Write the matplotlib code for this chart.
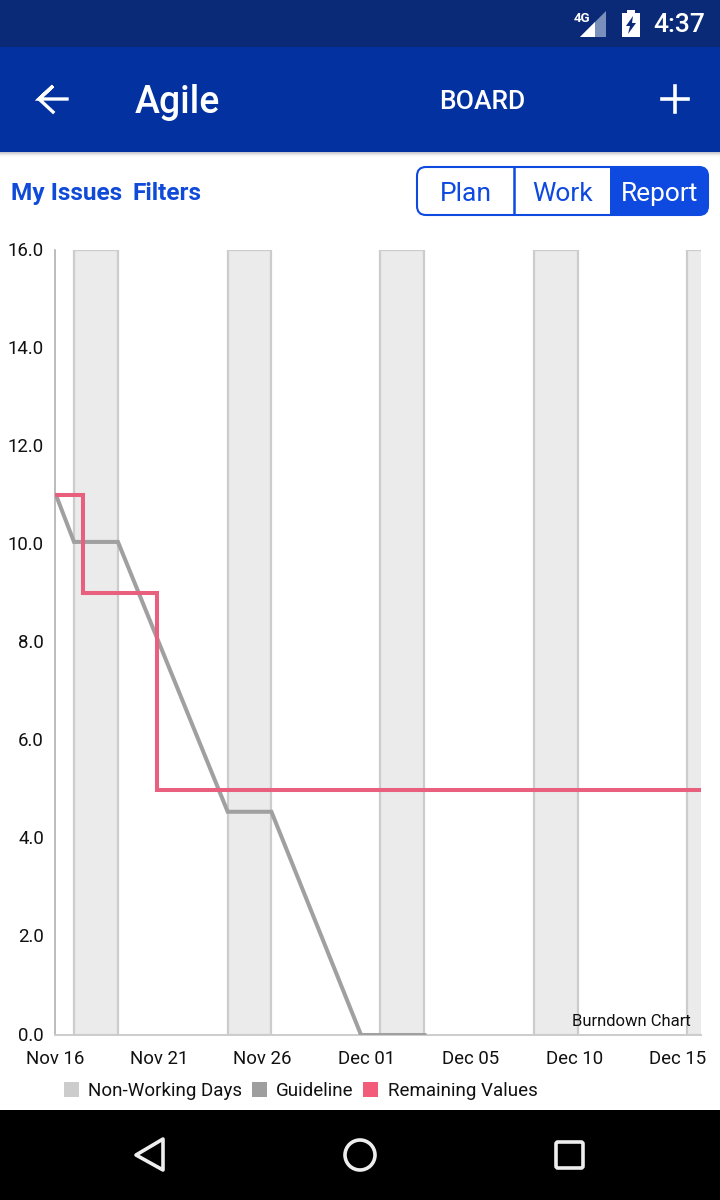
import matplotlib
matplotlib.use("Agg")
import matplotlib.pyplot as plt
from matplotlib.patches import Rectangle, FancyBboxPatch, Polygon, Circle, Patch
from matplotlib.transforms import ScaledTranslation

plt.rcParams['font.family'] = ['Roboto', 'DejaVu Sans']

W, H = 720, 1200

# ---- data (x in days since Nov 16) ----
tick_days = [-0.05, 4.7, 9.45, 14.2, 18.95, 23.7, 28.45]
tick_labels = ['Nov 16', 'Nov 21', 'Nov 26', 'Dec 01', 'Dec 05', 'Dec 10', 'Dec 15']
y_ticks = [0, 2, 4, 6, 8, 10, 12, 14, 16]
band_starts = [0.82, 7.85, 14.82, 21.85, 28.85]
band_ends = [2.83, 9.85, 16.85, 23.87, 30.5]
guide_x = [0, 0.82, 2.83, 7.85, 9.85, 13.95, 16.85]
guide_y = [11, 10.05, 10.05, 4.55, 4.55, 0, 0]
remain_x = [0, 1.23, 1.23, 4.6, 4.6, 29.5]
remain_y = [11, 11, 9, 9, 5, 5]
legend_labels = ['Non-Working Days', 'Guideline', 'Remaining Values']
legend_colors = ['#cccccc', '#9e9e9e', '#f25c7a']

fig = plt.figure(figsize=(W / 100, H / 100), dpi=100, facecolor='white')

# chart axes, placed in pixels
L, R, T, B = 55, 701, 250, 1035
ax = fig.add_axes([L / W, 1 - B / H, (R - L) / W, (B - T) / H])
ax.set_xlim(0, 29.5)
ax.set_ylim(0, 16)
for s, e in zip(band_starts, band_ends):
    ax.axvspan(s, e, facecolor='#ebebeb', edgecolor='#cccccc', lw=1.6, zorder=1)
ax.plot(guide_x, guide_y, color='#a0a0a0', lw=2.9, zorder=3, solid_joinstyle='miter')
ax.plot(remain_x, remain_y, color='#e8607e', lw=2.9, zorder=4, solid_joinstyle='miter')
for sp in ('top', 'right'):
    ax.spines[sp].set_visible(False)
ax.spines['left'].set_color('#aaaaaa')
ax.spines['bottom'].set_color('#cccccc')
ax.spines['left'].set_linewidth(1.1)
ax.spines['bottom'].set_linewidth(1.4)
ax.set_xticks(tick_days)
ax.set_xticklabels(tick_labels)
ax.set_yticks(y_ticks)
ax.set_yticklabels([f'{v:.1f}' for v in y_ticks])
ax.tick_params(axis='both', length=0, labelsize=13.4, colors='#111111')
ax.tick_params(axis='x', pad=11)
ax.tick_params(axis='y', pad=8)
up = ScaledTranslation(0, 1.0 / 72, fig.dpi_scale_trans)
for lab in ax.get_yticklabels():
    lab.set_transform(lab.get_transform() + up)

# ---- overlay in pixel coordinates ----
ov = fig.add_axes([0, 0, 1, 1], facecolor='none')
ov.set_xlim(0, W)
ov.set_ylim(H, 0)
ov.axis('off')

ov.text(691, 1021, 'Burndown Chart', ha='right', va='center', fontsize=12, color='#111111')

# status bar + app bar
ov.add_patch(Rectangle((0, 0), W, 47, fc='#0a2a78', ec='none'))
ov.add_patch(Rectangle((0, 47), W, 105, fc='#0332a0', ec='none'))
for i, c in enumerate(['#c9c9cf', '#d8d8dc', '#e8e8ea', '#f4f4f5', '#fbfbfb']):
    ov.add_patch(Rectangle((0, 152 + i), W, 1, fc=c, ec='none'))

# status icons
ov.add_patch(Polygon([(606, 11), (606, 37), (580, 37)], fc='#7b8fbd', ec='none'))
ov.add_patch(Polygon([(595, 22), (595, 37), (580, 37)], fc='white', ec='none'))
ov.text(582, 18, '4G', ha='center', va='center', fontsize=9.5, color='white', fontweight='bold')
ov.add_patch(Rectangle((622, 13), 18, 24, fc='white', ec='none'))
ov.add_patch(Rectangle((627, 10), 8, 3, fc='white', ec='none'))
ov.add_patch(Polygon([(633, 16), (626, 26), (630, 26), (628, 34), (636, 23), (632, 23)], fc='#0a2a78', ec='none'))
ov.text(705, 25, '4:37', ha='right', va='center', fontsize=19, color='white', fontweight='medium')

# app bar contents
ov.plot([67, 39, 53, 39, 53], [99, 99, 86, 99, 112], color='white', lw=2.4, solid_joinstyle='miter')
ov.text(135, 113, 'Agile', ha='left', va='baseline', fontsize=27, color='white', fontweight='medium')
ov.text(482, 109, 'BOARD', ha='center', va='baseline', fontsize=19, color='white', fontweight='medium')
ov.plot([662, 688], [99, 99], color='white', lw=2.6)
ov.plot([675, 675], [86, 112], color='white', lw=2.6)

# sub header
ov.text(11, 200, 'My Issues', ha='left', va='baseline', fontsize=17.6, color='#0f4ad8', fontweight='bold')
ov.text(133, 200, 'Filters', ha='left', va='baseline', fontsize=17.6, color='#0f4ad8', fontweight='bold')

# segmented control
blue = '#0f4ae0'
ov.add_patch(FancyBboxPatch((417, 167), 291, 48, boxstyle='round,pad=0,rounding_size=9',
                            fc='white', ec=blue, lw=1.5))
clip = FancyBboxPatch((417, 167), 291, 48, boxstyle='round,pad=0,rounding_size=9',
                      fc='none', ec='none', transform=ov.transData)
ov.add_patch(clip)
r = Rectangle((610, 167), 98, 48, fc=blue, ec='none')
ov.add_patch(r)
r.set_clip_path(clip)
ov.plot([514, 514], [167, 215], color=blue, lw=1.8, solid_capstyle='butt')
ov.text(466, 201, 'Plan', ha='center', va='baseline', fontsize=19, color=blue)
ov.text(563, 201, 'Work', ha='center', va='baseline', fontsize=19, color=blue)
ov.text(660, 201, 'Report', ha='center', va='baseline', fontsize=19, color='white')

# legend
handles = [Patch(fc=c, ec='none') for c in legend_colors]
fig.legend(handles, legend_labels, ncol=3, loc='center left', bbox_to_anchor=(64 / W, 1 - 1091 / H),
           frameon=False, fontsize=13.5, handlelength=0.8, handleheight=0.8,
           handletextpad=0.5, columnspacing=0.5, labelcolor='#111111', borderpad=0, borderaxespad=0)

# navigation bar
ov.add_patch(Rectangle((0, 1110), W, 90, fc='black', ec='none'))
ov.add_patch(Polygon([(163, 1139), (163, 1170), (136, 1155)], fc='none', ec='#eeeeee', lw=2.6, joinstyle='round'))
ov.add_patch(Circle((360, 1155), 15, fc='none', ec='#eeeeee', lw=2.6))
ov.add_patch(FancyBboxPatch((556, 1142), 27, 26, boxstyle='round,pad=0,rounding_size=2',
                            fc='none', ec='#eeeeee', lw=2.6))

fig.savefig('out.png', dpi=100, facecolor='white')
